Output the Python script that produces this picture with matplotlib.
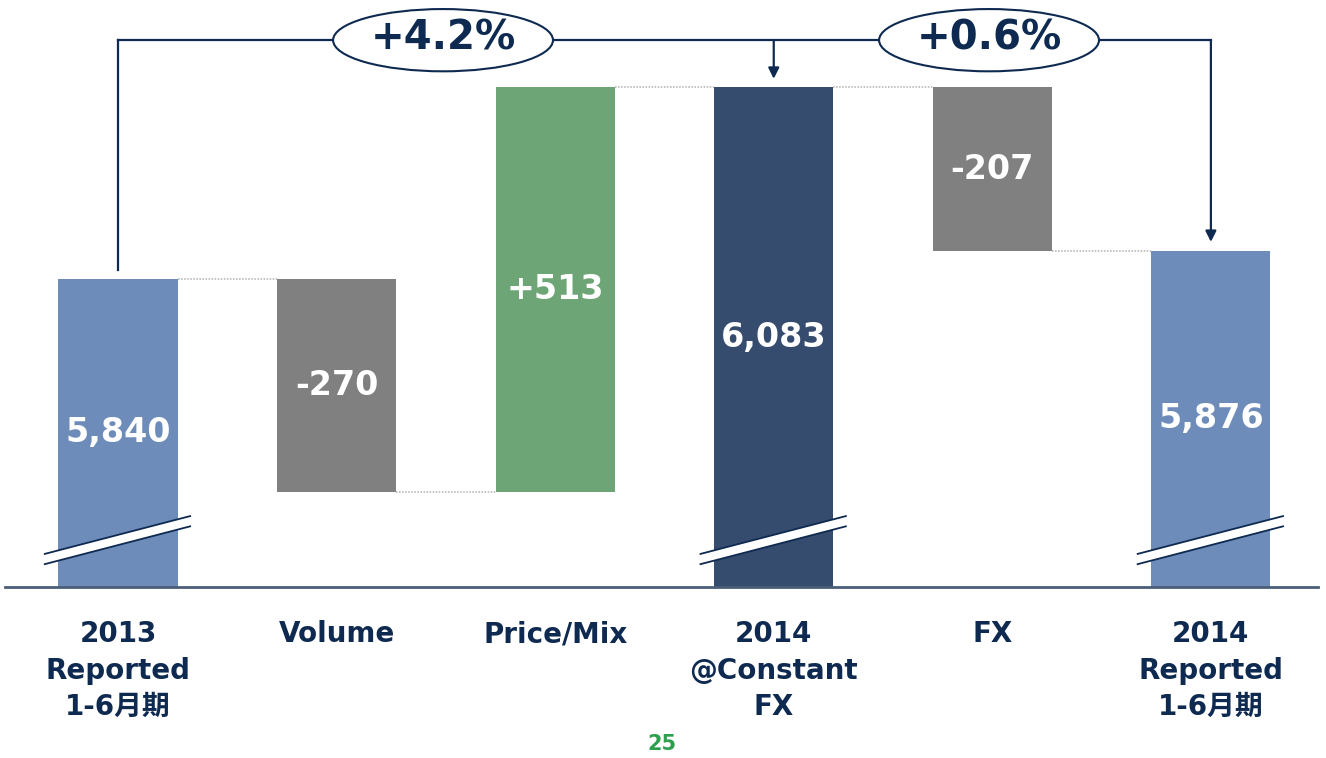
import matplotlib
matplotlib.use("Agg")
import matplotlib.pyplot as plt
from matplotlib.patches import Ellipse, Polygon

plt.rcParams['font.family'] = ['DejaVu Sans', 'Noto Sans CJK JP']

# ------------------------------------------------------------
# data
# ------------------------------------------------------------
categories = ['2013\nReported\n1-6月期', 'Volume', 'Price/Mix',
              '2014\n@Constant\nFX', 'FX', '2014\nReported\n1-6月期']
values = [5840, -270, 513, 6083, -207, 5876]
is_total = [True, False, False, True, False, True]
bar_labels = ['5,840', '-270', '+513', '6,083', '-207', '5,876']
growth_labels = ['+4.2%', '+0.6%']
page_no = '25'

# ------------------------------------------------------------
# style
# ------------------------------------------------------------
navy = '#0e2a50'
c_total = '#6e8cba'
c_total_dark = '#364c6e'
c_neg = '#808080'
c_pos = '#6ea577'
bar_colors = [c_total, c_neg, c_pos, c_total_dark, c_neg, c_total]

y_min, y_max = 5449, 6194
bar_w = 0.545

fig = plt.figure(figsize=(13.26, 7.58), dpi=100)
ax = fig.add_axes([5 / 1326, 1 - 587 / 758, 1313 / 1326, 587 / 758])
ax.set_xlim(-0.517, 5.49)
ax.set_ylim(y_min, y_max)

# waterfall bars
levels = []
running = 0
for i, v in enumerate(values):
    if is_total[i]:
        b, t = y_min, v
        running = v
    else:
        b, t = running, running + v
        running = running + v
    levels.append(running)
    lo, hi = min(b, t), max(b, t)
    ax.bar(i, hi - lo, bottom=lo, width=bar_w, color=bar_colors[i],
           edgecolor='none', zorder=2)
    ax.text(i, (lo + hi) / 2, bar_labels[i], color='white', fontsize=24,
            fontweight='bold', ha='center', va='center', zorder=5)

# dotted connectors between bars
for i in range(len(values) - 1):
    ax.plot([i + bar_w / 2, i + 1 - bar_w / 2], [levels[i], levels[i]],
            color='#b0b0b0', lw=1.1, ls=(0, (1, 1)), zorder=1)

# axis break marks on total bars
for i in range(len(values)):
    if not is_total[i]:
        continue
    x0, x1 = i - 0.335, i + 0.33
    lo0, lo1 = y_min + 29, y_min + 77
    up0, up1 = y_min + 42, y_min + 90
    ax.add_patch(Polygon([[x0, lo0], [x1, lo1], [x1, up1], [x0, up0]],
                         closed=True, facecolor='white', edgecolor='none',
                         zorder=3))
    ax.plot([x0, x1], [lo0, lo1], color=navy, lw=1.3, zorder=4)
    ax.plot([x0, x1], [up0, up1], color=navy, lw=1.3, zorder=4)

# growth brackets
bracket_y = 6143
gap = 11
ax.plot([0, 0], [values[0] + gap, bracket_y], color=navy, lw=1.6, zorder=4)
ax.plot([0, 5], [bracket_y, bracket_y], color=navy, lw=1.6, zorder=4)
for tgt in (3, 5):
    ax.annotate('', xy=(tgt, levels[tgt] + gap), xytext=(tgt, bracket_y),
                arrowprops=dict(arrowstyle='-|>', color=navy, lw=1.6,
                                mutation_scale=16, shrinkA=0, shrinkB=0),
                zorder=4)
ell_x = [1.487, 3.985]
for cx, lab in zip(ell_x, growth_labels):
    ax.add_patch(Ellipse((cx, bracket_y), width=1.006, height=79,
                         facecolor='white', edgecolor=navy, lw=1.5, zorder=6))
    ax.text(cx, bracket_y + 2, lab, color=navy, fontsize=29, fontweight='bold',
            ha='center', va='center', zorder=7)

# axes styling
for s in ['top', 'left', 'right']:
    ax.spines[s].set_visible(False)
ax.spines['bottom'].set_color('#4b5d78')
ax.spines['bottom'].set_linewidth(2)
ax.set_yticks([])
ax.set_xticks(range(len(categories)))
ax.set_xticklabels(categories, fontsize=20, fontweight='bold', color=navy,
                   linespacing=1.38)
ax.tick_params(axis='x', length=0, pad=24)

fig.text(662 / 1326, 1 - 744 / 758, page_no, color='#2e9e4f', fontsize=15,
         fontweight='bold', ha='center', va='center')

fig.savefig('out.png', dpi=100)
